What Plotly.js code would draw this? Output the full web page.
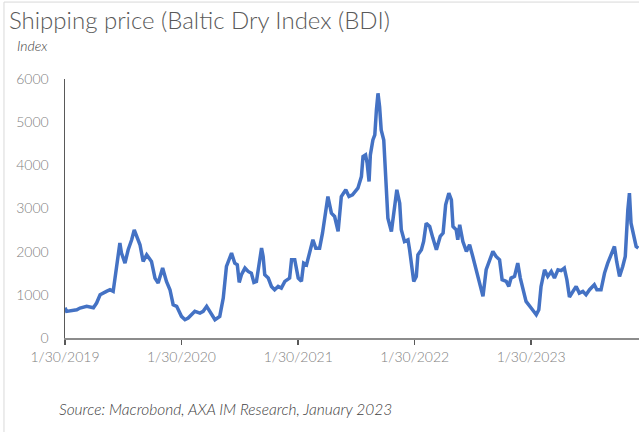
<!DOCTYPE html>
<html>
<head>
<meta charset="utf-8">
<script src="https://cdn.plot.ly/plotly-3.0.1.min.js"></script>
<style>
html,body{margin:0;padding:0;background:#fff;}
#chart{width:639px;height:437px;}
</style>
</head>
<body>
<div id="chart"></div>
<script>
const dates = [
"2019-01-30","2019-02-04","2019-03-08","2019-03-18","2019-04-08","2019-04-29","2019-05-09","2019-05-20",
"2019-06-09","2019-06-20","2019-06-30","2019-07-06","2019-07-16","2019-07-21","2019-07-26","2019-08-06",
"2019-08-16","2019-08-27","2019-09-04","2019-09-11","2019-09-22","2019-10-02","2019-10-13","2019-10-28",
"2019-11-08","2019-11-18","2019-12-02","2019-12-14","2019-12-25","2020-01-04","2020-01-15","2020-01-30",
"2020-02-10","2020-02-20","2020-03-12","2020-03-28","2020-04-07","2020-04-18","2020-04-28","2020-05-14",
"2020-05-29","2020-06-09","2020-06-19","2020-07-05","2020-07-15","2020-07-23","2020-07-29","2020-08-05",
"2020-08-16","2020-08-26","2020-09-05","2020-09-13","2020-09-21","2020-09-29","2020-10-07","2020-10-12",
"2020-10-17","2020-10-28","2020-11-07","2020-11-17","2020-11-28","2020-12-08","2020-12-19","2021-01-03",
"2021-01-09","2021-01-19","2021-01-30","2021-02-09","2021-02-16","2021-02-25","2021-03-07","2021-03-17",
"2021-03-26","2021-04-07","2021-04-16","2021-04-23","2021-05-03","2021-05-14","2021-05-24","2021-06-04",
"2021-06-14","2021-06-28","2021-07-08","2021-07-19","2021-07-26","2021-08-05","2021-08-16","2021-08-21",
"2021-08-29","2021-09-03","2021-09-09","2021-09-13","2021-09-21","2021-09-27","2021-10-02","2021-10-07",
"2021-10-12","2021-10-17","2021-10-25","2021-10-31","2021-11-07","2021-11-18","2021-11-25","2021-12-05",
"2021-12-14","2021-12-19","2021-12-29","2022-01-09","2022-01-14","2022-01-19","2022-01-27","2022-02-04",
"2022-02-09","2022-02-20","2022-02-27","2022-03-07","2022-03-18","2022-03-28","2022-04-08","2022-04-20",
"2022-04-29","2022-05-07","2022-05-17","2022-05-25","2022-05-30","2022-06-09","2022-06-14","2022-06-20",
"2022-06-30","2022-07-11","2022-07-21","2022-07-31","2022-08-11","2022-08-21","2022-09-01","2022-09-11",
"2022-09-22","2022-10-02","2022-10-12","2022-10-23","2022-10-31","2022-11-13","2022-11-21","2022-11-28",
"2022-12-09","2022-12-19","2022-12-27","2023-01-04","2023-01-14","2023-01-30","2023-02-15","2023-02-23",
"2023-03-02","2023-03-13","2023-03-23","2023-04-03","2023-04-13","2023-04-24","2023-05-04","2023-05-14",
"2023-05-22","2023-05-30","2023-06-09","2023-06-20","2023-06-30","2023-07-11","2023-07-21","2023-08-01",
"2023-08-16","2023-08-24","2023-09-06","2023-09-17","2023-09-27","2023-10-08","2023-10-18","2023-10-25",
"2023-11-03","2023-11-13","2023-11-21","2023-11-29","2023-12-04","2023-12-09","2023-12-16","2023-12-25",
"2024-01-01"
];
const bdi = [
700,617,655,694,733,700,810,1000,
1080,1118,1080,1427,1890,2200,1970,1735,
2044,2275,2506,2352,2160,1774,1928,1774,
1388,1272,1620,1311,1118,771,733,501,
424,463,617,578,617,733,617,424,
501,925,1658,1966,1735,1697,1288,1465,
1620,1542,1504,1288,1311,1697,2082,1890,
1465,1388,1195,1118,1195,1157,1311,1388,
1812,1812,1388,1311,1735,1697,2005,2275,
2082,2082,2429,2738,3278,2892,2815,2468,
3278,3432,3278,3316,3390,3470,3740,4203,
4241,4049,3625,4241,4588,4704,5283,5668,
5360,4820,4588,3548,2776,2468,2815,3432,
3123,2506,2236,2275,2044,1735,1311,1427,
1928,2044,2236,2660,2583,2314,2044,2352,
2429,3085,3355,3200,2583,2506,2275,2622,
2236,2005,2160,1890,1581,1272,964,1581,
1812,2005,1890,1812,1350,1311,1195,1388,
1427,1735,1388,1118,848,694,540,655,
1195,1581,1427,1542,1388,1581,1560,1620,
1350,949,1080,1195,1041,1080,1003,1118,
1234,1118,1118,1504,1735,1966,2121,1774,
1427,1658,1890,2969,3355,2660,2429,2121,
2082
];
const tickDates = ["2019-01-30","2020-01-30","2021-01-30","2022-01-30","2023-01-30"];
const tickLabels = ["1/30/2019","1/30/2020","1/30/2021","1/30/2022","1/30/2023"];
const yTicks = [0,1000,2000,3000,4000,5000,6000];

const FONT = "Lato, 'Open Sans', sans-serif";

const trace = {
  x: dates, y: bdi, type: "scatter", mode: "lines",
  line: {color: "#4472C4", width: 3.5},
  hoverinfo: "skip"
};

const layout = {
  width: 639, height: 437,
  margin: {l: 65, r: 0, t: 79, b: 99},
  paper_bgcolor: "#ffffff", plot_bgcolor: "#ffffff",
  showlegend: false,
  font: {family: FONT, color: "#7f7f7f", size: 14},
  xaxis: {
    type: "date",
    range: ["2019-01-30", "2024-01-03"],
    tickvals: tickDates, ticktext: tickLabels,
    ticks: "outside", ticklen: 5, tickwidth: 1.5, tickcolor: "#595959",
    showline: true, linecolor: "#8c8c8c", linewidth: 2,
    showgrid: false, zeroline: false,
    tickfont: {family: FONT, size: 14, color: "#808080", weight: 300},
    fixedrange: true
  },
  yaxis: {
    range: [0, 6000],
    tickvals: yTicks,
    ticks: "",
    ticklabelstandoff: 12,
    showline: true, linecolor: "#595959", linewidth: 1.5,
    showgrid: false, zeroline: false,
    tickfont: {family: FONT, size: 14, color: "#808080", weight: 300},
    fixedrange: true
  },
  title: {
    text: "Shipping price (Baltic Dry Index (BDI)",
    x: 0, xref: "container", xanchor: "left",
    y: 1, yref: "container", yanchor: "top",
    pad: {t: 12, l: 9},
    font: {family: FONT, size: 24, color: "#595959", weight: 300}
  },
  annotations: [
    {text: "<i>Index</i>", xref: "paper", yref: "paper",
     x: -0.087, y: 1.13, xanchor: "left", yanchor: "middle", showarrow: false,
     font: {family: FONT, size: 14, color: "#404040", weight: 300}},
    {text: "<i>Source: Macrobond, AXA IM Research, January 2023</i>", xref: "paper", yref: "paper",
     x: -0.014, y: -0.275, xanchor: "left", yanchor: "middle", showarrow: false,
     font: {family: FONT, size: 15.5, color: "#404040", weight: 300}}
  ],
  shapes: [
    {type: "line", xref: "paper", yref: "paper", x0: -0.1063, x1: -0.1063, y0: 1.297, y1: -0.363,
     line: {color: "#d9d9d9", width: 1}},
    {type: "line", xref: "paper", yref: "paper", x0: -0.1063, x1: 1.0, y0: 1.297, y1: 1.297,
     line: {color: "#d9d9d9", width: 1}}
  ]
};

Plotly.newPlot("chart", [trace], layout, {staticPlot: true, displayModeBar: false});
</script>
</body>
</html>
